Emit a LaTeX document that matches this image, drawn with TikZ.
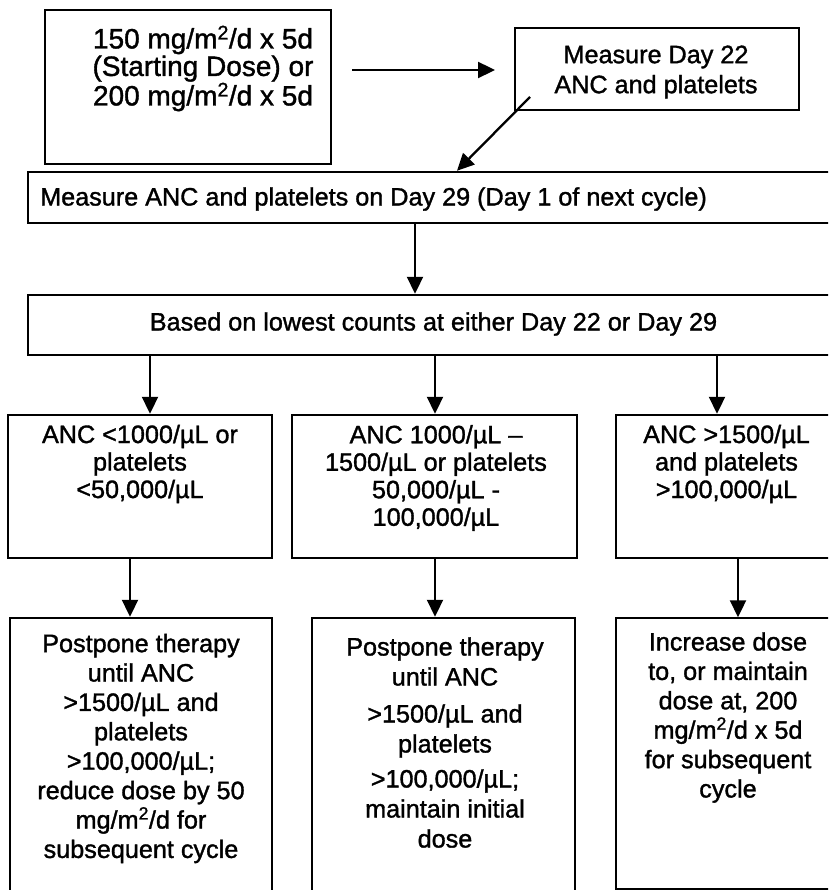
\documentclass[tikz,border=0pt]{standalone}
\usepackage{fontspec}
\setmainfont{Liberation Sans}[FakeBold=1.3]
\usetikzlibrary{arrows.meta}
\begin{document}
\begin{tikzpicture}[x=1pt,y=-1pt,
  box/.style={draw, line width=2.5pt, inner sep=0pt},
  txt/.style={align=center, inner sep=0pt, font=\fontsize{25.2}{29.4}\selectfont},
  arr/.style={line width=2.3pt, -{Triangle[width=16pt,length=17pt]}}]
\useasboundingbox (0,0) rectangle (828,890);
\clip (0,0) rectangle (828,890);
\fill[white] (0,0) rectangle (828,890);
% boxes
\node[box, minimum width=286pt, minimum height=154pt] (start) at (188,87) {};
\node[box, line width=2pt, minimum width=284pt, minimum height=82pt] (d22) at (657,69) {};
\node[box, minimum width=817pt, minimum height=51pt] (d29) at (436.5,197.5) {};
\node[box, minimum width=817pt, minimum height=60pt] (based) at (436.5,325) {};
\node[box, minimum width=264pt, minimum height=143pt] (c1) at (140,486.5) {};
\node[box, minimum width=285pt, minimum height=143pt] (c2) at (434.5,486.5) {};
\node[box, minimum width=229pt, minimum height=143pt] (c3) at (730.5,486.5) {};
\node[box, minimum width=262pt, minimum height=287pt] (r1) at (141,761.5) {};
\node[box, minimum width=263pt, minimum height=287pt] (r2) at (443.5,761.5) {};
\node[box, line width=1.5pt, minimum width=229pt, minimum height=271pt] (r3) at (730.5,753.5) {};
% texts
\node[txt, font=\fontsize{28}{27.5}\selectfont] (tstart) at (203,68.5)
  {150 mg/m\textsuperscript{2}/d x 5d\\(Starting Dose) or\\200 mg/m\textsuperscript{2}/d x 5d};
\node[txt, font=\fontsize{25.2}{30}\selectfont] (td22) at (656,72) {Measure Day 22\\ANC and platelets};
\node[txt, anchor=west] (td29) at (40,199) {Measure ANC and platelets on Day 29 (Day 1 of next cycle)};
\node[txt] (tbased) at (433.5,324) {Based on lowest counts at either Day 22 or Day 29};
\node[txt, font=\fontsize{25.2}{27.5}\selectfont] (tc1) at (140,464) {ANC <1000/µL or\\platelets\\<50,000/µL};
\node[txt, font=\fontsize{25.2}{27.5}\selectfont] (tc2) at (436,478) {ANC 1000/µL –\\1500/µL or platelets\\50,000/µL -\\100,000/µL};
\node[txt, font=\fontsize{25.2}{27.5}\selectfont] (tc3) at (726.5,464) {ANC >1500/µL\\and platelets\\>100,000/µL};
\node[txt] (tr1) at (141,748.5) {Postpone therapy\\until ANC\\>1500/µL and\\platelets\\>100,000/µL;\\reduce dose by 50\\mg/m\textsuperscript{2}/d for\\subsequent cycle};
\node[txt, font=\fontsize{25.2}{30}\selectfont] (tr2) at (445,742.5) {Postpone therapy\\until ANC\\[7pt]>1500/µL and\\platelets\\[5pt]>100,000/µL;\\maintain initial\\dose};
\node[txt] (tr3) at (728,717.5) {Increase dose\\to, or maintain\\dose at, 200\\mg/m\textsuperscript{2}/d x 5d\\for subsequent\\cycle};
% connectors
\coordinate (h1) at (352,70);
\coordinate (h2) at (495,70);
\draw[arr] (h1) -- (h2);
\coordinate (g1) at (530,97);
\draw[arr] (g1) -- (d29.north -| 457,0);
\draw[arr] (d29.south -| 415,0) -- (based.north -| 415,0);
\draw[arr] (based.south -| 150,0) -- (c1.north -| 150,0);
\draw[arr] (based.south -| 435,0) -- (c2.north -| 435,0);
\draw[arr] (based.south -| 717,0) -- (c3.north -| 717,0);
\draw[arr] (c1.south -| 130,0) -- (r1.north -| 130,0);
\draw[arr] (c2.south -| 435,0) -- (r2.north -| 435,0);
\draw[arr] (c3.south -| 738,0) -- (r3.north -| 738,0);
\end{tikzpicture}
\end{document}
